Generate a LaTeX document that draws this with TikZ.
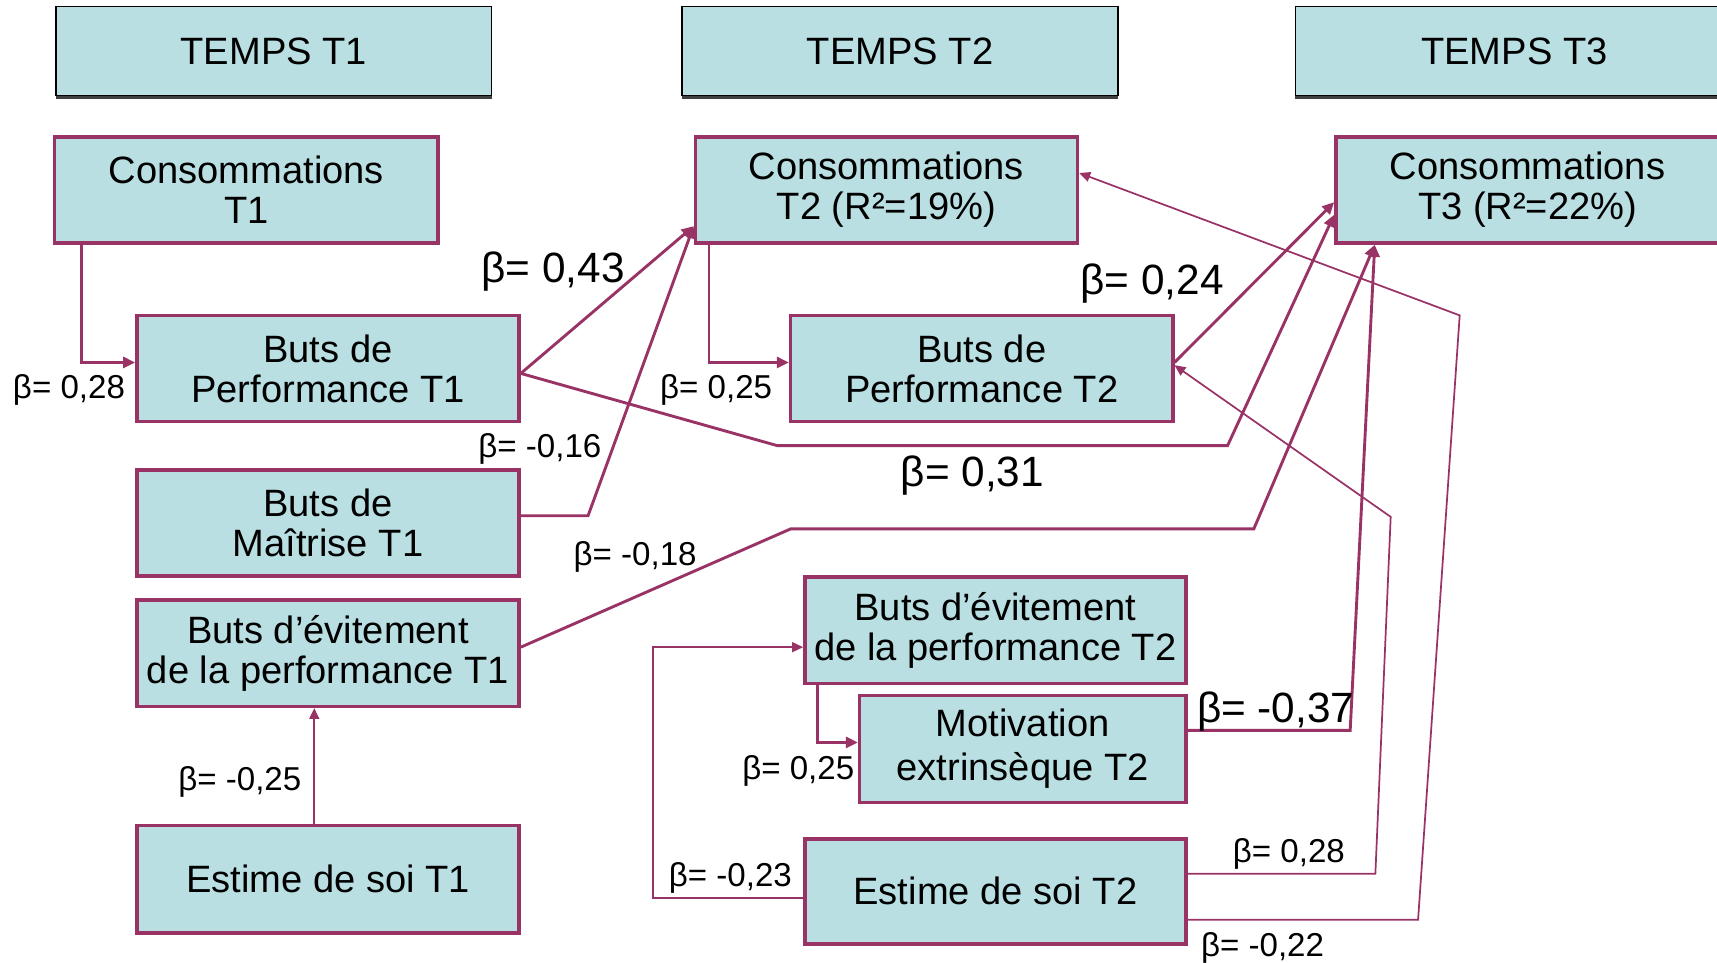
\documentclass[tikz,border=0pt]{standalone}
\usepackage{fontspec}
\setmainfont{Liberation Sans}
\usepackage{tikz}
\usetikzlibrary{arrows.meta,shadows}
\definecolor{prune}{RGB}{153,51,102}
\definecolor{bleu}{RGB}{185,223,226}

\begin{document}
\begin{tikzpicture}[
		boite/.style={draw=prune,line width=0.9pt,fill=bleu,align=center,minimum width=3.49cm,minimum height=0.97cm,inner sep=0pt,font=\fontsize{9.9}{10.4}\selectfont},
		entete/.style={draw=black,line width=0.4pt,fill=bleu,minimum width=3.98cm,minimum height=0.81cm,inner sep=0pt,font=\fontsize{9.9}{10.4}\selectfont,drop shadow={shadow xshift=0pt,shadow yshift=-0.35mm,fill=black!75,opacity=1}},
		fort/.style={draw=prune,line width=0.75pt,-{Triangle[length=1.1mm,width=1mm]}},
		fin/.style={draw=prune,line width=0.45pt,-{Triangle[length=1mm,width=0.9mm]}},
		petit/.style={font=\fontsize{8.6}{9}\selectfont,inner sep=0pt},
		grand/.style={font=\fontsize{11}{12}\selectfont,inner sep=0pt}]
			\useasboundingbox (0,0) rectangle (15.68,8.79);
			\clip (0,0) rectangle (15.68,8.79);

			\node[entete] (t1) at (2.50,8.325) {TEMPS T1};
			\node[entete] (t2) at (8.22,8.325) {TEMPS T2};
			\node[entete,minimum width=4cm] (t3) at (13.83,8.325) {TEMPS T3};

			\node[boite,minimum width=3.5cm] (ct1) at (2.25,7.055) {Consommations\\T1};
			\node[boite] (ct2) at (8.095,7.055) {Consommations\\T2 (R²=19\%)};
			\node[boite,minimum width=3.5cm] (ct3) at (13.95,7.055) {Consommations\\T3 (R²=22\%)};
			\node[boite] (bp1) at (2.995,5.425) {Buts de\\Performance T1};
			\node[boite] (bp2) at (8.965,5.425) {Buts de\\Performance T2};
			\node[boite] (bm1) at (2.995,4.015) {Buts de\\Maîtrise T1};
			\node[boite] (be1) at (2.995,2.825) {Buts d’évitement\\de la performance T1};
			\node[boite,minimum width=3.48cm] (be2) at (9.09,3.035) {Buts d’évitement\\de la performance T2};
			\node[boite,minimum width=2.98cm,minimum height=0.98cm,font=\fontsize{9.9}{11.4}\selectfont] (me2) at (9.34,1.95) {Motivation\\extrinsèque T2};
			\node[boite,minimum height=0.98cm] (es1) at (2.995,0.76) {Estime de soi T1};
			\node[boite,minimum width=3.48cm,minimum height=0.96cm] (es2) at (9.09,0.65) {Estime de soi T2};

			\draw[fort] ([xshift=2.6mm]ct1.south west) |- ([yshift=0.55mm]bp1.west);
			\draw[fort] ([yshift=-0.45mm]bp1.east) -- ([yshift=1.7mm]ct2.south west);
			\draw[fort] ([yshift=-0.45mm]bp1.east) -- (7.10,4.72) -- (11.21,4.72) -- ([yshift=2.75mm]ct3.south west);
			\draw[fort] ([yshift=0.55mm]bp2.east) -- ([yshift=3.9mm]ct3.south west);
			\draw[fort] ([xshift=1.4mm]ct2.south west) |- ([yshift=0.55mm]bp2.west);
			\draw[fort] ([yshift=0.65mm]bm1.east) -- (5.37,4.08) -- ([yshift=1.7mm]ct2.south west);
			\draw[fort] ([yshift=0.55mm]be1.east) -- (7.22,3.96) -- (11.45,3.96) -- ([xshift=3.7mm]ct3.south west);
			\draw[fort] ([xshift=1.3mm]be2.south west) |- ([yshift=0.6mm]me2.west);
			\draw[fort] ([yshift=1.7mm]me2.east) -- (12.33,2.12) -- ([xshift=3.7mm]ct3.south west);
			\draw[fin] ([yshift=-0.6mm]es2.west) -- ++(-1.37,0) |- ([yshift=-1.55mm]be2.west);
			\draw[fin] ([yshift=1.6mm]es2.east) -- (12.56,0.81) -- (12.70,4.07) -- ([yshift=0.3mm]bp2.east);
			\draw[fin] ([yshift=-2.6mm]es2.east) -- (12.95,0.39) -- (13.33,5.91) -- ([yshift=1.55mm]ct2.east);
			\draw[fin,line width=0.55pt] ([xshift=-1.25mm]es1.north) -- ([xshift=-1.25mm]be1.south);

			\node[petit] (b1) at (0.63,5.23) {β= 0,28};
			\node[grand] (b2) at (5.05,6.31) {β= 0,43};
			\node[grand] (b3) at (8.88,4.45) {β= 0,31};
			\node[grand] (b4) at (10.52,6.20) {β= 0,24};
			\node[petit] (b5) at (6.54,5.23) {β= 0,25};
			\node[petit] (b6) at (4.93,4.69) {β= -0,16};
			\node[petit] (b7) at (5.80,3.70) {β= -0,18};
			\node[petit] (b8) at (7.29,1.75) {β= 0,25};
			\node[grand] (b9) at (11.65,2.29) {β= -0,37};
			\node[petit] (b10) at (6.67,0.77) {β= -0,23};
			\node[petit] (b11) at (11.77,0.99) {β= 0,28};
			\node[petit] (b12) at (11.53,0.13) {β= -0,22};
			\node[petit] (b13) at (2.19,1.65) {β= -0,25};
		\end{tikzpicture}
\end{document}
